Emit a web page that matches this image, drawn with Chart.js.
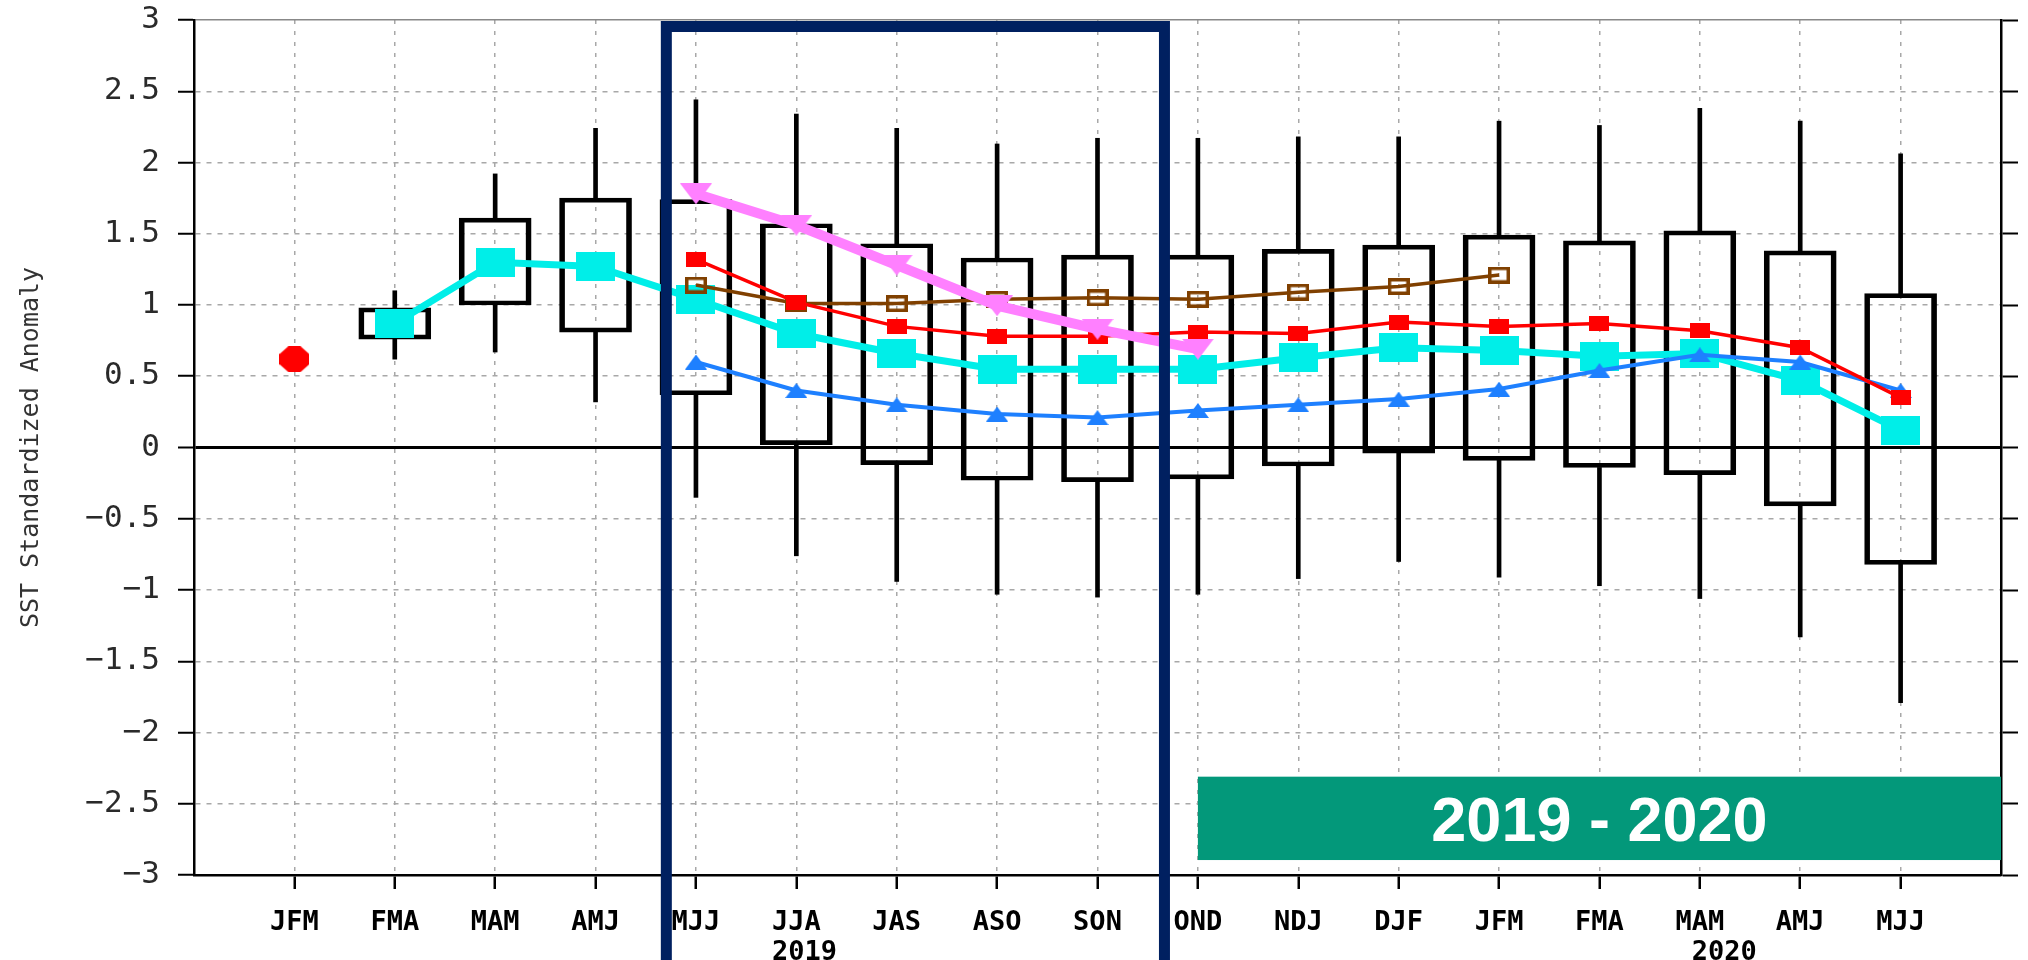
<!DOCTYPE html>
<html>
<head>
<meta charset="utf-8">
<script src="https://cdn.jsdelivr.net/npm/chart.js@4.4.1/dist/chart.umd.min.js"></script>
<style>
html, body { margin: 0; padding: 0; background: #fff; }
#wrap { width: 2028px; height: 960px; }
</style>
</head>
<body>
<div id="wrap"><canvas id="sstchart" width="2028" height="960"></canvas></div>
<script>
// seasons along the bottom, first one is the observed JFM
const seasons = ['JFM', 'FMA', 'MAM', 'AMJ', 'MJJ', 'JJA', 'JAS', 'ASO', 'SON', 'OND', 'NDJ', 'DJF', 'JFM', 'FMA', 'MAM', 'AMJ', 'MJJ'];
const yearLabels = ['', '', '', '', '', ' 2019', '', '', '', '', '', '', '', '', '   2020', '', ''];

// box and whiskers (ensemble spread)
const whiskerTop = [null, 1.10, 1.92, 2.24, 2.44, 2.34, 2.24, 2.13, 2.17, 2.17, 2.18, 2.18, 2.29, 2.26, 2.38, 2.29, 2.06];
const boxTop = [null, 0.98, 1.61, 1.75, 1.74, 1.57, 1.43, 1.33, 1.35, 1.35, 1.39, 1.42, 1.49, 1.45, 1.52, 1.38, 1.08];
const boxBottom = [null, 0.76, 1.00, 0.81, 0.37, 0.02, -0.12, -0.23, -0.24, -0.22, -0.13, -0.04, -0.09, -0.14, -0.19, -0.41, -0.82];
const whiskerBottom = [null, 0.62, 0.67, 0.32, -0.35, -0.76, -0.94, -1.03, -1.05, -1.03, -0.92, -0.80, -0.91, -0.97, -1.06, -1.33, -1.79];

// forecast lines
const observed = [0.62, null, null, null, null, null, null, null, null, null, null, null, null, null, null, null, null];
const cyanSeries = [null, 0.87, 1.30, 1.27, 1.04, 0.80, 0.66, 0.55, 0.55, 0.55, 0.63, 0.70, 0.68, 0.64, 0.66, 0.47, 0.12];
const redSeries = [null, null, null, null, 1.32, 1.02, 0.85, 0.78, 0.78, 0.81, 0.80, 0.88, 0.85, 0.87, 0.82, 0.70, 0.35];
const brownSeries = [null, null, null, null, 1.14, 1.01, 1.01, 1.04, 1.05, 1.04, 1.09, 1.13, 1.21, null, null, null, null];
const blueSeries = [null, null, null, null, 0.60, 0.40, 0.30, 0.235, 0.21, 0.26, 0.30, 0.34, 0.41, 0.54, 0.65, 0.60, 0.40];
const pinkSeries = [null, null, null, null, 1.78, 1.56, 1.28, 0.995, 0.83, 0.69, null, null, null, null, null, null, null];

const cyan = '#00EEE8';
const red = '#FF0000';
const brown = '#804000';
const blue = '#1E80FF';
const pink = '#FF80FF';

// navy frame and green banner, in axis units
const frameFrom = 3.705, frameTo = 8.667, frameTop = 2.955;
const bannerFrom = 9, bannerTo = 17, bannerTop = -2.31, bannerBottom = -2.895;

function pts(values) {
    let out = [];
    values.forEach(function (v, i) {
        if (v !== null) out.push({ x: i, y: v });
    });
    return out;
}
function ranges(lo, hi) {
    let out = [];
    lo.forEach(function (v, i) {
        if (v !== null && hi[i] !== null) out.push({ x: i, y: [v, hi[i]] });
    });
    return out;
}
function marker(w, h, paint) {
    const c = document.createElement('canvas');
    c.width = w;
    c.height = h;
    paint(c.getContext('2d'), w, h);
    return c;
}

// the original picture is stretched sideways, so markers are wider than tall
const cyanMark = marker(39, 29, function (g, w, h) { g.fillStyle = cyan; g.fillRect(0, 0, w, h); });
const redMark = marker(20, 15, function (g, w, h) { g.fillStyle = red; g.fillRect(0, 0, w, h); });
const brownMark = marker(22, 17, function (g, w, h) {
    g.strokeStyle = brown; g.lineWidth = 3.5; g.strokeRect(1.75, 1.75, w - 3.5, h - 3.5);
});
const blueMark = marker(22, 15, function (g, w, h) {
    g.fillStyle = blue; g.beginPath(); g.moveTo(w / 2, 0); g.lineTo(w, h); g.lineTo(0, h); g.closePath(); g.fill();
});
const pinkMark = marker(32, 21, function (g, w, h) {
    g.fillStyle = pink; g.beginPath(); g.moveTo(0, 0); g.lineTo(w, 0); g.lineTo(w / 2, h); g.closePath(); g.fill();
});
const octMark = marker(30, 26, function (g, w, h) {
    const a = 9, b = 8;
    g.fillStyle = red; g.beginPath();
    g.moveTo(a, 0); g.lineTo(w - a, 0); g.lineTo(w, b); g.lineTo(w, h - b);
    g.lineTo(w - a, h); g.lineTo(a, h); g.lineTo(0, h - b); g.lineTo(0, b);
    g.closePath(); g.fill();
});

function lineSet(label, values, color, width, mark, order) {
    return {
        type: 'line',
        label: label,
        data: pts(values),
        borderColor: color,
        backgroundColor: color,
        borderWidth: width,
        pointStyle: mark,
        pointRadius: 10,
        tension: 0,
        order: order
    };
}

const highlightPlugin = {
    id: 'highlight',
    afterDraw(chart) {
        const ctx = chart.ctx;
        const x = chart.scales.x;
        const y = chart.scales.y;
        ctx.save();
        // navy frame round the 2019 seasons
        const left = x.getPixelForValue(frameFrom);
        const right = x.getPixelForValue(frameTo);
        const top = y.getPixelForValue(frameTop);
        ctx.strokeStyle = '#002060';
        ctx.lineWidth = 11;
        ctx.lineJoin = 'miter';
        ctx.beginPath();
        ctx.moveTo(left, chart.height + 20);
        ctx.lineTo(left, top);
        ctx.lineTo(right, top);
        ctx.lineTo(right, chart.height + 20);
        ctx.stroke();
        // green banner
        const bl = x.getPixelForValue(bannerFrom);
        const br = x.getPixelForValue(bannerTo);
        const bt = y.getPixelForValue(bannerTop);
        const bb = y.getPixelForValue(bannerBottom);
        ctx.fillStyle = '#03987A';
        ctx.fillRect(bl, bt, br - bl, bb - bt);
        ctx.fillStyle = '#ffffff';
        ctx.font = 'bold 63px "Liberation Sans", Arial, sans-serif';
        ctx.textAlign = 'center';
        ctx.textBaseline = 'alphabetic';
        ctx.fillText('2019 - 2020', (bl + br) / 2, (bt + bb) / 2 + 23);
        ctx.restore();
    }
};

const outside = function (c) { return c.tick.value < 0 || c.tick.value > 16; };

const config = {
    type: 'line',
    data: {
        datasets: [
            lineSet('observed', observed, red, 0, octMark, 1),
            lineSet('pink', pinkSeries, pink, 10, pinkMark, 2),
            lineSet('red', redSeries, red, 3.5, redMark, 3),
            lineSet('blue', blueSeries, blue, 4, blueMark, 4),
            lineSet('brown', brownSeries, brown, 3.5, brownMark, 5),
            lineSet('cyan', cyanSeries, cyan, 7, cyanMark, 6),
            {
                type: 'bar',
                label: 'box',
                data: ranges(boxBottom, boxTop),
                backgroundColor: 'rgba(0,0,0,0)',
                borderColor: '#000',
                borderWidth: { top: 4, bottom: 4, left: 5, right: 5 },
                borderSkipped: false,
                barThickness: 72,
                grouped: false,
                order: 10
            },
            {
                type: 'bar',
                label: 'upper',
                data: ranges(boxTop, whiskerTop),
                backgroundColor: '#000',
                borderWidth: 0,
                barThickness: 4,
                grouped: false,
                order: 11
            },
            {
                type: 'bar',
                label: 'lower',
                data: ranges(whiskerBottom, boxBottom),
                backgroundColor: '#000',
                borderWidth: 0,
                barThickness: 4,
                grouped: false,
                order: 11
            }
        ]
    },
    options: {
        responsive: false,
        animation: false,
        events: [],
        layout: { padding: { top: 19, left: 0, right: 0, bottom: 0 } },
        plugins: {
            legend: { display: false },
            tooltip: { enabled: false }
        },
        scales: {
            x: {
                type: 'linear',
                min: -1,
                max: 17,
                offset: false,
                afterFit: function (scale) { scale.height = 85; },
                ticks: {
                    stepSize: 1,
                    autoSkip: false,
                    maxRotation: 0,
                    padding: 19,
                    color: '#000',
                    font: { family: 'DejaVu Sans Mono', size: 27, weight: 'bold', lineHeight: 1.1 },
                    callback: function (value) {
                        const i = Math.round(value);
                        if (i !== value || i < 0 || i >= seasons.length) return '';
                        return yearLabels[i] ? [seasons[i], yearLabels[i]] : seasons[i];
                    }
                },
                grid: {
                    offset: false,
                    color: function (c) { return outside(c) ? 'rgba(0,0,0,0)' : '#a8a8a8'; },
                    lineWidth: 1.5,
                    tickLength: 14,
                    tickWidth: 2.5,
                    tickColor: function (c) { return outside(c) ? 'rgba(0,0,0,0)' : '#000'; }
                },
                border: { color: '#000', width: 2.5, dash: [4, 7] }
            },
            y: {
                type: 'linear',
                position: 'left',
                min: -3,
                max: 3,
                afterFit: function (scale) {
                    scale.width = 194;
                    scale.paddingTop = 0;
                    scale.paddingBottom = 0;
                },
                ticks: {
                    stepSize: 0.5,
                    padding: 18,
                    color: '#2a2a2a',
                    font: { family: 'DejaVu Sans Mono', size: 31 },
                    callback: function (value) { return String(value).replace('-', '\u2212'); }
                },
                title: {
                    display: true,
                    text: 'SST Standardized Anomaly',
                    color: '#333',
                    font: { family: 'DejaVu Sans Mono', size: 25 },
                    padding: { top: 16, bottom: 0 }
                },
                grid: {
                    color: function (c) {
                        if (c.tick.value === 0) return '#000';
                        if (c.tick.value === 3) return '#888';
                        return '#a8a8a8';
                    },
                    lineWidth: function (c) { return c.tick.value === 0 ? 3 : 1.5; },
                    tickLength: 16,
                    tickWidth: 2,
                    tickColor: '#000'
                },
                border: {
                    color: '#000',
                    width: 2.5,
                    dash: function (c) { return (c.tick && (c.tick.value === 0 || c.tick.value === 3)) ? [] : [5, 6]; }
                }
            },
            y2: {
                type: 'linear',
                position: 'right',
                min: -3,
                max: 3,
                afterFit: function (scale) {
                    scale.width = 27;
                    scale.paddingTop = 0;
                    scale.paddingBottom = 0;
                },
                ticks: {
                    stepSize: 0.5,
                    padding: 0,
                    callback: function () { return ''; }
                },
                grid: {
                    drawOnChartArea: false,
                    tickLength: 17,
                    tickWidth: 2,
                    tickColor: '#000'
                },
                border: { color: '#000', width: 2.5 }
            }
        }
    },
    plugins: [highlightPlugin]
};

new Chart(document.getElementById('sstchart'), config);
</script>
</body>
</html>
